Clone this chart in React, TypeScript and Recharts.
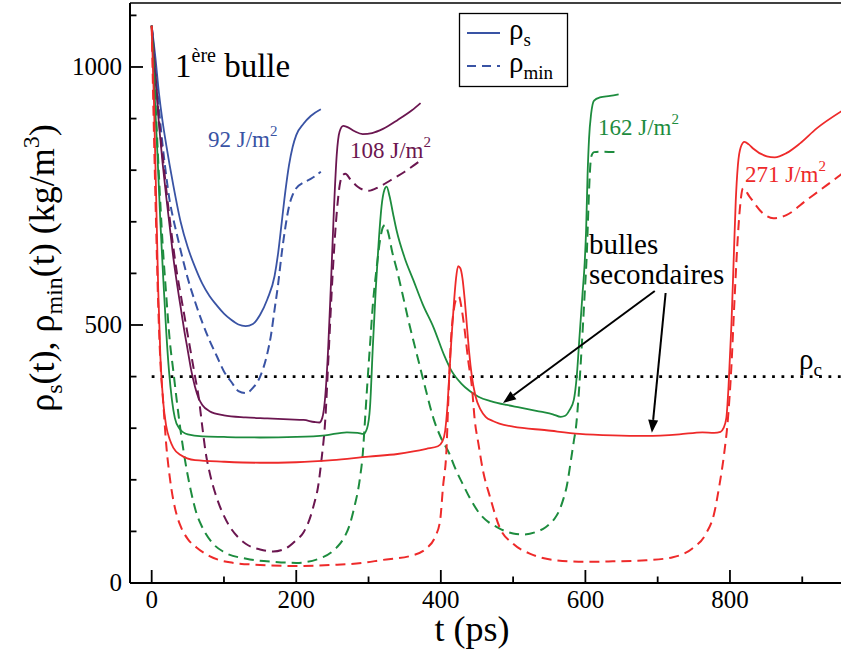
import React from "react";
import { LineChart, Line, XAxis, YAxis, ReferenceLine } from "recharts";

// ---- data: [t (ps), rho (kg/m3)] ----
const blueSolid: [number, number][] = [
  [0, 1080], [5, 1020], [10, 950], [15, 895], [20, 850], [30, 770], [40, 700], [50, 650],
  [60, 612], [70, 580], [80, 556], [90, 538], [100, 522], [110, 510], [120, 501], [130, 498],
  [140, 502], [150, 520], [160, 550], [170, 595], [175, 640], [180, 700], [185, 760],
  [190, 810], [195, 845], [200, 868], [210, 890], [220, 905], [234, 918],
];
const blueMin: [number, number][] = [
  [0, 1080], [5, 1000], [10, 920], [15, 850], [20, 790], [25, 740], [30, 705], [35, 675],
  [40, 645], [50, 590], [60, 545], [70, 505], [80, 470], [90, 440], [100, 410], [110, 390],
  [120, 372], [130, 368], [140, 378], [150, 400], [160, 445], [165, 480], [170, 530],
  [175, 580], [180, 640], [185, 690], [190, 730], [195, 752], [200, 765], [210, 776],
  [220, 783], [234, 797],
];
const purpleSolid: [number, number][] = [
  [0, 1080], [5, 980], [10, 890], [15, 815], [20, 750], [25, 690], [30, 630], [35, 580],
  [40, 535], [45, 490], [50, 450], [55, 410], [60, 380], [65, 358], [70, 345], [80, 333],
  [100, 325], [130, 321], [160, 319], [190, 317], [210, 316], [225, 312], [232, 311],
  [236, 320], [240, 360], [244, 450], [248, 580], [252, 720], [256, 830], [260, 875],
  [265, 886], [270, 884], [280, 876], [292, 870], [305, 872], [320, 880], [340, 897],
  [360, 916], [372, 930],
];
const purpleMin: [number, number][] = [
  [0, 1080], [5, 990], [10, 900], [15, 830], [20, 765], [25, 705], [30, 650], [35, 600],
  [40, 560], [45, 520], [50, 480], [55, 440], [60, 400], [65, 360], [70, 303], [75, 250],
  [80, 215], [90, 165], [100, 130], [110, 105], [120, 88], [130, 76], [150, 65], [168, 61],
  [180, 64], [190, 71], [200, 83], [210, 98], [220, 130], [225, 155], [230, 185],
  [235, 240], [240, 313], [245, 450], [250, 590], [255, 700], [260, 770], [264, 790],
  [268, 793], [275, 782], [285, 768], [300, 760], [315, 768], [330, 780], [350, 797],
  [371, 818],
];
const greenSolid: [number, number][] = [
  [0, 1080], [4, 950], [8, 830], [12, 700], [16, 590], [20, 490], [24, 410], [28, 355],
  [32, 320], [38, 300], [50, 288], [70, 284], [100, 283], [150, 282], [200, 283],
  [240, 286], [270, 292], [285, 291], [293, 289], [298, 300], [302, 340], [306, 460],
  [310, 570], [314, 660], [318, 730], [322, 762], [325, 768], [329, 750], [334, 715],
  [339, 682], [350, 630], [362, 587], [375, 540], [390, 495], [405, 440], [414, 413],
  [428, 387], [440, 372], [452, 361], [470, 352], [491, 345], [510, 340], [538, 332],
  [555, 327], [566, 322], [572, 324], [578, 335], [584, 355], [588, 400], [592, 480],
  [596, 560], [599, 620], [601, 684], [603, 790], [605, 860], [608, 910], [612, 935],
  [620, 941], [634, 944], [646, 947],
];
const greenMin: [number, number][] = [
  [0, 1080], [5, 940], [10, 790], [15, 660], [20, 560], [25, 470], [30, 410], [35, 350],
  [40, 295], [46, 239], [54, 180], [62, 135], [70, 108], [85, 76], [100, 60], [131, 47],
  [170, 41], [200, 39], [237, 50], [256, 69], [265, 85], [274, 113], [280, 145],
  [288, 202], [292, 250], [295, 313], [299, 400], [302, 460], [306, 540], [311, 608],
  [316, 665], [320, 690], [323, 694], [327, 680], [333, 640], [339, 608], [347, 560],
  [355, 510], [362, 470], [371, 420], [380, 370], [390, 318], [400, 282], [412, 250],
  [420, 222], [431, 190], [442, 160], [454, 134], [466, 118], [477, 109], [490, 100],
  [500, 96], [514, 94], [532, 99], [545, 108], [551, 115], [558, 126], [564, 141],
  [570, 165], [574, 186], [580, 238], [584, 275], [587, 302], [591, 370], [595, 460],
  [599, 560], [602, 640], [604, 720], [606, 790], [608, 826], [612, 835], [620, 836],
  [641, 835],
];
const redSolid: [number, number][] = [
  [0, 1080], [3, 940], [6, 760], [9, 570], [12, 440], [16, 350], [20, 305], [25, 278],
  [30, 262], [40, 248], [60, 238], [100, 235], [150, 233], [200, 234], [250, 238],
  [300, 245], [340, 250], [362, 255], [380, 260], [396, 265], [402, 274], [406, 295],
  [409, 340], [412, 410], [415, 480], [418, 540], [421, 590], [424, 614], [427, 610],
  [430, 590], [433, 550], [436, 500], [439, 450], [443, 400], [448, 362], [455, 336],
  [462, 322], [472, 314], [481, 309], [500, 303], [546, 296], [592, 289], [638, 286],
  [684, 285], [730, 288], [762, 292], [778, 291], [787, 293], [791, 300], [795, 320],
  [798, 380], [802, 500], [805, 620], [808, 740], [811, 810], [815, 845], [820, 855],
  [826, 850], [832, 842], [851, 827], [862, 825], [878, 833], [897, 852], [920, 881],
  [955, 915],
];
const redMin: [number, number][] = [
  [0, 1080], [3, 880], [6, 700], [9, 540], [12, 430], [16, 350], [20, 270], [25, 205],
  [30, 160], [35, 130], [40, 110], [50, 85], [62, 69], [80, 52], [108, 40], [150, 35],
  [200, 33], [250, 35], [292, 39], [316, 44], [362, 54], [380, 67], [392, 89], [399, 121],
  [403, 186], [408, 264], [410, 340], [414, 470], [418, 530], [422, 552], [425, 555],
  [429, 530], [433, 490], [438, 430], [443, 380], [447, 315], [452, 270], [458, 220],
  [468, 167], [481, 109], [500, 76], [523, 57], [560, 44], [601, 41], [638, 42],
  [684, 44], [721, 50], [748, 67], [767, 96], [778, 134], [785, 186], [792, 251],
  [797, 315], [802, 420], [806, 540], [810, 650], [814, 730], [818, 765], [827, 749],
  [846, 716], [860, 707], [878, 713], [906, 742], [934, 771], [955, 793],
];

const rhoC = 400;
const xTicks = [0, 100, 200, 300, 400, 500, 600, 700, 800, 900];
const yTicks = [0, 100, 200, 300, 400, 500, 600, 700, 800, 900, 1000, 1100];
const xDomain: [number, number] = [-30, 955];
const yDomain: [number, number] = [0, 1124];
// arrows: [tStart, rhoStart, tEnd, rhoEnd]
const arrows: [number, number, number, number][] = [
  [696, 566, 486, 349],
  [711, 562, 692, 291],
];

const BLUE = "#3953a4";
const PURPLE = "#6b1650";
const GREEN = "#1d8c3e";
const RED = "#ee2a2a";
const FAM = "Liberation Serif";
const fontStyle = { fontFamily: `"Liberation Serif"` };

const toObj = (a: [number, number][]) => a.map(([t, r]) => ({ t, r }));

const series = [
  { key: "bs", data: toObj(blueSolid), color: BLUE, dash: undefined },
  { key: "bm", data: toObj(blueMin), color: BLUE, dash: "9 5" },
  { key: "ps", data: toObj(purpleSolid), color: PURPLE, dash: undefined },
  { key: "pm", data: toObj(purpleMin), color: PURPLE, dash: "10 6" },
  { key: "gs", data: toObj(greenSolid), color: GREEN, dash: undefined },
  { key: "gm", data: toObj(greenMin), color: GREEN, dash: "10 6" },
  { key: "rs", data: toObj(redSolid), color: RED, dash: undefined },
  { key: "rm", data: toObj(redMin), color: RED, dash: "10 6" },
];

const T = (props: any) => (
  <text fontFamily={FAM} style={fontStyle} fill="#000" {...props} />
);

const XTick = (props: any) => {
  const { x, y, payload } = props;
  const major = payload.value % 200 === 0;
  return (
    <g>
      <line x1={x} y1={y} x2={x} y2={y - (major ? 13 : 6.5)} stroke="#000" strokeWidth={1.8} />
      {major && (
        <T x={x} y={y + 25} textAnchor="middle" fontSize={25}>
          {String(payload.value)}
        </T>
      )}
    </g>
  );
};

const YTick = (props: any) => {
  const { x, y, payload } = props;
  const major = payload.value % 500 === 0;
  return (
    <g>
      <line x1={x} y1={y} x2={x + (major ? 13 : 6.5)} y2={y} stroke="#000" strokeWidth={1.8} />
      {major && (
        <T x={x - 8} y={y + 8} textAnchor="end" fontSize={25}>
          {String(payload.value)}
        </T>
      )}
    </g>
  );
};

const ArrowShape = (props: any) => {
  const { x1, y1, x2, y2 } = props;
  const ang = Math.atan2(y2 - y1, x2 - x1);
  const L = 13;
  const W = 5;
  const bx = x2 - L * Math.cos(ang);
  const by = y2 - L * Math.sin(ang);
  const px = -Math.sin(ang) * W;
  const py = Math.cos(ang) * W;
  return (
    <g>
      <line x1={x1} y1={y1} x2={bx} y2={by} stroke="#000" strokeWidth={2} />
      <polygon
        points={`${x2},${y2} ${bx + px},${by + py} ${bx - px},${by - py}`}
        fill="#000"
      />
    </g>
  );
};

const Overlay = () => (
  <svg
    width={841}
    height={655}
    style={{ position: "absolute", left: 0, top: 0, pointerEvents: "none" }}
  >
    {/* legend */}
    <rect x={459.5} y={13.5} width={108} height={73} fill="#fff" stroke="#000" strokeWidth={1.3} />
    <line x1={467} y1={33} x2={500} y2={33} stroke={BLUE} strokeWidth={2} />
    <line x1={467} y1={66} x2={500} y2={66} stroke={BLUE} strokeWidth={2} strokeDasharray="9 6" />
    <T x={509} y={39} fontSize={29}>
      ρ<tspan fontSize={19} dy={7}>s</tspan>
    </T>
    <T x={509} y={72} fontSize={29}>
      ρ<tspan fontSize={19} dy={7}>min</tspan>
    </T>

    {/* annotations */}
    <T x={175} y={77} fontSize={33}>
      1<tspan fontSize={20} dy={-15}>ère</tspan>
      <tspan dy={15}> bulle</tspan>
    </T>
    <T x={208} y={147} fontSize={23} fill={BLUE}>
      92 J/m<tspan fontSize={15} dy={-11}>2</tspan>
    </T>
    <T x={350} y={158} fontSize={23} fill={PURPLE}>
      108 J/m<tspan fontSize={15} dy={-11}>2</tspan>
    </T>
    <T x={598} y={135} fontSize={23} fill={GREEN}>
      162 J/m<tspan fontSize={15} dy={-11}>2</tspan>
    </T>
    <T x={745} y={182} fontSize={23} fill={RED}>
      271 J/m<tspan fontSize={15} dy={-11}>2</tspan>
    </T>
    <T x={589} y={254} fontSize={29}>bulles</T>
    <T x={589} y={284} fontSize={29}>secondaires</T>
    <T x={799} y={369} fontSize={29}>
      ρ<tspan fontSize={19} dy={7}>c</tspan>
    </T>

    {/* axis titles */}
    <T x={472} y={641} fontSize={36} textAnchor="middle">t (ps)</T>
    <T transform="translate(54,268) rotate(-90)" fontSize={36} textAnchor="middle">
      ρ<tspan fontSize={24} dy={8}>s</tspan>
      <tspan dy={-8}>(t), ρ</tspan>
      <tspan fontSize={24} dy={8}>min</tspan>
      <tspan dy={-8}>(t) (kg/m</tspan>
      <tspan fontSize={24} dy={-15}>3</tspan>
      <tspan dy={15}>)</tspan>
    </T>
  </svg>
);

export default function App() {
  return (
    <div
      style={{
        position: "absolute",
        left: 0,
        top: 0,
        width: 841,
        height: 655,
        overflow: "hidden",
        background: "#fff",
      }}
    >
      <LineChart width={850} height={655} margin={{ top: 3, right: 8, left: 0, bottom: 0 }}>
        <XAxis
          dataKey="t"
          type="number"
          domain={xDomain}
          ticks={xTicks}
          interval={0}
          tickSize={0}
          tickMargin={0}
          tickLine={false}
          tick={<XTick />}
          height={72}
          axisLine={{ stroke: "#000", strokeWidth: 2 }}
          allowDataOverflow
        />
        <YAxis
          type="number"
          domain={yDomain}
          ticks={yTicks}
          interval={0}
          tickSize={0}
          tickMargin={0}
          tickLine={false}
          tick={<YTick />}
          width={130}
          axisLine={{ stroke: "#000", strokeWidth: 2 }}
          allowDataOverflow
        />
        <ReferenceLine y={yDomain[1]} stroke="#000" strokeWidth={1.6} />
        <ReferenceLine
          segment={[{ x: 0, y: rhoC }, { x: xDomain[1], y: rhoC }]}
          stroke="#000"
          strokeWidth={2.8}
          strokeDasharray="2.8 6.6"
        />
        {series.map((s) => (
          <Line
            key={s.key}
            data={s.data}
            dataKey="r"
            type="monotone"
            stroke={s.color}
            strokeWidth={s.dash ? 2 : 1.8}
            strokeDasharray={s.dash}
            dot={false}
            activeDot={false}
            isAnimationActive={false}
          />
        ))}
        {arrows.map(([t1, r1, t2, r2], i) => (
          <ReferenceLine
            key={"a" + i}
            segment={[{ x: t1, y: r1 }, { x: t2, y: r2 }]}
            shape={(p: any) => <ArrowShape {...p} />}
          />
        ))}
      </LineChart>
      <Overlay />
    </div>
  );
}
